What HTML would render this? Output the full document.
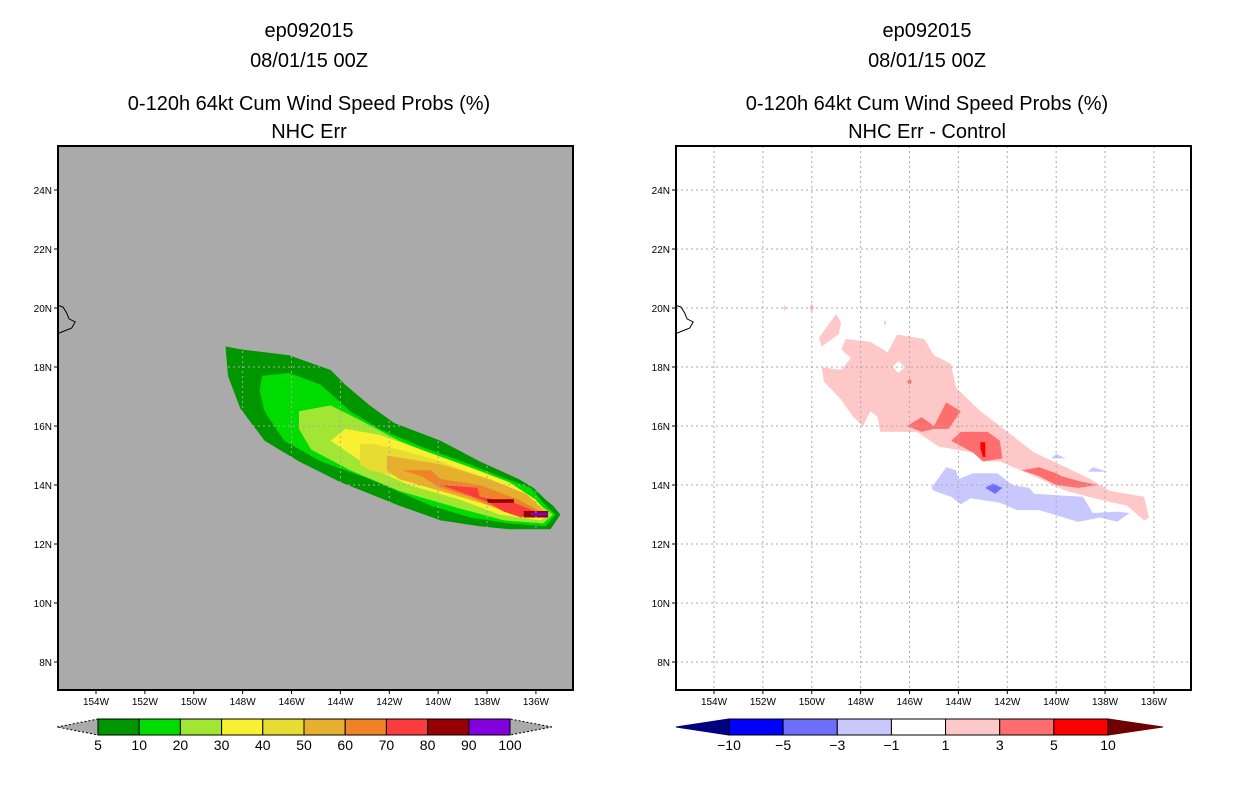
<!DOCTYPE html>
<html><head><meta charset="utf-8"><style>
body{margin:0;background:#fff;}
svg{display:block;}
text{font-family:"Liberation Sans",sans-serif;}
.t{font-size:20px;text-anchor:middle;fill:#000;}
.tk{font-size:10px;fill:#000;}
</style></head><body>
<svg id="s" width="1236" height="800" xmlns="http://www.w3.org/2000/svg">
<defs>
<clipPath id="cL"><rect x="58" y="146" width="515" height="544"/></clipPath>
<clipPath id="cR"><rect x="676" y="146" width="515" height="544"/></clipPath>
</defs>
<g>
<text class="t" x="309" y="37">ep092015</text>
<text class="t" x="309" y="67">08/01/15 00Z</text>
<text class="t" x="309" y="110">0-120h 64kt Cum Wind Speed Probs (%)</text>
<text class="t" x="309" y="138">NHC Err</text>
</g>
<g>
<text class="t" x="927" y="37">ep092015</text>
<text class="t" x="927" y="67">08/01/15 00Z</text>
<text class="t" x="927" y="110">0-120h 64kt Cum Wind Speed Probs (%)</text>
<text class="t" x="927" y="138">NHC Err - Control</text>
</g>
<rect x="58" y="146" width="515" height="544" fill="#aaaaaa"/>
<rect x="676" y="146" width="515" height="544" fill="#ffffff"/>
<g id="gL" clip-path="url(#cL)"></g>
<g id="gR" clip-path="url(#cR)"></g>
<g id="ax"></g>
<rect x="58" y="146" width="515" height="544" fill="none" stroke="#000" stroke-width="2"/>
<rect x="676" y="146" width="515" height="544" fill="none" stroke="#000" stroke-width="2"/>
<g id="cb"></g>
</svg>
<script>
const latTicks=[24,22,20,18,16,14,12,10,8];
const lonTicks=[154,152,150,148,146,144,142,140,138,136];
const leftLevels=["5","10","20","30","40","50","60","70","80","90","100"];
const leftColors=["#009600","#00dc00","#a0e632","#faf032","#e6dc32","#e6af2d","#f08228","#fa3c3c","#960000","#8200dc"];
const rightLevels=["-10","-5","-3","-1","1","3","5","10"];
const rightColors=["#0000ff","#6e6eff","#c8c8ff","#ffffff","#ffc8c8","#ff6e6e","#ff0000"];
const hawaii=[[155.6,20.1],[155.35,20.03],[155.2,19.83],[155.1,19.63],[154.85,19.53],[155.0,19.32],[155.3,19.22],[155.6,19.12]];
const p5=[[148.7,18.7],[148.1,18.6],[146.1,18.4],[144.4,17.9],[143.8,17.4],[142.8,16.7],[141.8,16.1],[139.9,15.5],[138.3,14.8],[137.5,14.5],[136.7,14.2],[136.1,13.9],[135.6,13.5],[135.3,13.3],[135.0,13.0],[135.4,12.5],[137.1,12.5],[138.3,12.6],[139.9,12.8],[141.6,13.3],[144.0,14.1],[145.7,14.8],[147.1,15.5],[148.1,16.6],[148.6,17.7]];
const p10=[[147.2,17.7],[146.1,17.8],[144.8,17.4],[143.6,16.5],[142.4,15.9],[140.7,15.3],[138.7,14.7],[137.5,14.3],[136.2,13.9],[135.6,13.3],[135.2,13.0],[135.6,12.6],[137.1,12.7],[138.7,12.9],[140.3,13.3],[142.8,14.2],[144.8,14.8],[146.3,15.5],[147.1,16.5],[147.3,17.2]];
const p20=[[145.7,16.5],[144.4,16.7],[143.2,16.2],[141.6,15.5],[139.5,14.8],[137.9,14.3],[136.7,13.8],[135.8,13.3],[135.3,13.0],[135.7,12.7],[137.3,12.8],[139.1,13.2],[141.6,13.8],[143.6,14.5],[145.2,15.2],[145.7,15.9]];
const p30=[[144.4,15.5],[143.8,15.9],[142.4,15.7],[140.7,15.2],[138.7,14.6],[137.1,14.1],[136.0,13.5],[135.5,13.0],[135.8,12.8],[137.5,13.0],[139.1,13.5],[141.2,14.0],[142.8,14.6]];
const p40=[[143.2,15.4],[142.7,15.4],[141.6,15.2],[139.9,14.8],[138.3,14.3],[136.7,13.8],[135.8,13.2],[136.0,12.9],[137.5,13.2],[139.1,13.7],[141.2,14.2],[142.8,14.5],[143.2,14.7]];
const p50=[[142.1,15.0],[139.9,14.7],[137.9,14.2],[136.4,13.7],[135.6,13.1],[136.0,12.9],[137.5,13.2],[139.1,13.6],[141.6,14.2],[142.1,14.5]];
const p60=[[141.5,14.5],[140.3,14.5],[139.9,14.2],[138.3,14.0],[136.7,13.5],[135.8,13.1],[136.2,12.9],[137.3,13.1],[138.7,13.6],[139.9,13.9],[140.7,14.3]];
const p70=[[139.9,14.0],[138.4,13.9],[138.3,13.6],[136.9,13.4],[136.0,13.1],[136.6,12.9],[137.3,13.1],[137.9,13.4],[139.2,13.8]];
const p80a=[[138.0,13.52],[136.9,13.52],[136.9,13.4],[138.0,13.4]];
const p80b=[[136.5,13.12],[135.5,13.12],[135.5,12.9],[136.5,12.9]];
const p90=[[136.2,13.06],[135.5,13.06],[135.5,12.97],[136.2,12.97]];
const leftPolys=[[0,p5],[1,p10],[2,p20],[3,p30],[4,p40],[5,p50],[6,p60],[7,p70],[8,p80a],[8,p80b],[9,p90]];
const rPink=[[148.8,18.6],[148.6,18.95],[147.6,18.85],[146.9,18.5],[146.5,19.1],[145.4,18.95],[145.0,18.4],[144.3,18.1],[144.1,17.3],[143.1,16.5],[142.3,16.0],[140.9,15.1],[139.6,14.6],[138.6,14.2],[137.8,13.8],[136.4,13.6],[136.2,12.9],[136.4,12.8],[137.1,13.3],[138.2,13.5],[139.6,13.8],[140.9,14.3],[142.3,14.8],[143.0,14.8],[143.4,15.1],[144.8,15.3],[145.7,15.8],[147.2,15.8],[147.3,16.3],[147.6,16.5],[147.9,16.0],[148.3,16.3],[148.8,16.9],[149.5,17.5],[149.6,18.0],[148.8,17.9],[148.4,18.3]];
const rHole=[[146.45,18.2],[146.2,18.0],[146.45,17.8],[146.7,18.0]];
const rBlob=[[149.7,19.0],[149.0,19.8],[148.8,19.5],[148.9,19.1],[149.6,18.7]];
const rDot1=[[150.0,20.15],[149.9,20.0],[150.0,19.85],[150.1,20.0]];
const rDot2=[[147.0,19.6],[146.95,19.5],[147.0,19.4],[147.05,19.5]];
const rDot3=[[151.1,20.1],[151.03,20.0],[151.1,19.9],[151.17,20.0]];
const rRedA=[[146.1,16.0],[145.5,16.3],[145.0,16.0],[144.5,16.8],[143.9,16.5],[144.4,15.9],[145.0,15.9],[145.5,15.8]];
const rRedB=[[144.3,15.5],[143.9,15.8],[142.8,15.8],[142.3,15.5],[142.2,14.9],[143.0,14.8],[143.4,15.1]];
const rRedC=[[141.4,14.5],[140.7,14.6],[140.0,14.4],[139.8,14.3],[138.9,14.1],[138.3,14.0],[139.1,13.9],[140.0,14.0],[140.7,14.3]];
const rRedDot=[[146.0,17.6],[145.9,17.5],[146.0,17.4],[146.1,17.5]];
const rRed5=[[143.1,15.45],[142.9,15.45],[142.9,14.95],[143.0,14.95],[143.1,15.25]];
const rBlue1=[[145.1,13.9],[144.5,14.6],[144.1,14.5],[144.0,14.2],[143.4,14.4],[142.4,14.4],[141.8,14.0],[141.1,13.9],[140.9,13.7],[138.9,13.6],[138.5,13.05],[137.5,13.1],[137.0,13.05],[137.5,12.75],[138.2,12.9],[139.1,12.75],[140.7,13.15],[141.6,13.15],[142.3,13.4],[143.5,13.55],[143.9,13.35],[144.3,13.6],[145.0,13.8]];
const rBlue3=[[142.9,13.9],[142.6,14.05],[142.2,13.9],[142.5,13.7]];
const rBlueS1=[[140.2,14.9],[140.0,15.05],[139.6,14.9]];
const rBlueS2=[[138.7,14.45],[138.5,14.6],[137.9,14.45]];
const rightPolys=[[4,rPink],[3,rHole],[4,rBlob],[4,rDot1],[4,rDot2],[4,rDot3],[5,rRedA],[5,rRedB],[5,rRedC],[5,rRedDot],[6,rRed5],[2,rBlue1],[1,rBlue3],[2,rBlueS1],[2,rBlueS2]];

const NS="http://www.w3.org/2000/svg";
function mk(tag,attrs,parent){const e=document.createElementNS(NS,tag);for(const k in attrs)e.setAttribute(k,attrs[k]);parent.appendChild(e);return e;}
function xs(lon,off){return off+96+(154-lon)*24.44;}
function ys(lat){return 190+(24-lat)*29.5;}
function pts(arr,off){return arr.map(p=>xs(p[0],off).toFixed(1)+","+ys(p[1]).toFixed(1)).join(" ");}
const gL=document.getElementById('gL'),gR=document.getElementById('gR'),ax=document.getElementById('ax'),cb=document.getElementById('cb');
leftPolys.forEach(lp=>{const e=mk('polygon',{points:pts(lp[1],0),fill:leftColors[lp[0]]},gL);

});
rightPolys.forEach(rp=>{const e=mk('polygon',{points:pts(rp[1],618),fill:rightColors[rp[0]]},gR);

});
[[gL,0],[gR,618]].forEach(([g,off])=>{
 const gc='#aaaaaa';
 lonTicks.forEach(l=>{const e=mk('line',{x1:xs(l,off),x2:xs(l,off),y1:146,y2:690,stroke:gc,'stroke-dasharray':'2,3','stroke-width':1},g);
 
 });
 latTicks.forEach(l=>{const e=mk('line',{x1:58+off,x2:573+off,y1:ys(l),y2:ys(l),stroke:gc,'stroke-dasharray':'2,3','stroke-width':1},g);
 
 });
 const c=mk('polyline',{points:pts(hawaii,off),fill:'none',stroke:'#000','stroke-width':1},g);
 
 
 latTicks.forEach(l=>{const y=ys(l);mk('line',{x1:54+off,x2:58+off,y1:y,y2:y,stroke:'#000'},ax);
  const t=mk('text',{x:52+off,y:y+4,'text-anchor':'end',class:'tk'},ax);t.textContent=l+'N';
  
  });
 lonTicks.forEach(l=>{const x=xs(l,off);mk('line',{x1:x,x2:x,y1:690,y2:694,stroke:'#000'},ax);
  const t=mk('text',{x:x,y:705,'text-anchor':'middle',class:'tk'},ax);t.textContent=l+'W';
  
  });
});
function bar(x0,x1,tl,tr,colors,labels,lc,rc,dash){
 const w=(x1-x0)/colors.length,y0=719,y1=735,ym=727;
 const a=mk('polygon',{points:`${tl},${ym} ${x0},${y0} ${x0},${y1}`,fill:lc,stroke:dash?'#000':lc,'stroke-dasharray':dash?'2,2':'none'},cb);
 
 
 const b=mk('polygon',{points:`${tr},${ym} ${x1},${y0} ${x1},${y1}`,fill:rc,stroke:dash?'#000':rc,'stroke-dasharray':dash?'2,2':'none'},cb);
 
 
 colors.forEach((c,i)=>{const r=mk('rect',{x:x0+i*w,y:y0,width:w,height:y1-y0,fill:c,stroke:'#000','stroke-width':1},cb);
  
  });
 labels.forEach((s,i)=>{const t=mk('text',{x:x0+i*w,y:750,'text-anchor':'middle','font-size':'14px'},cb);t.textContent=s.replace('-','\u2212');
  
  });
}
bar(98,510,57,552,leftColors,leftLevels,'#aaaaaa','#aaaaaa',true);
bar(729,1108,676,1163,rightColors,rightLevels,'#000080','#6e0000',false);
</script>
</body></html>
